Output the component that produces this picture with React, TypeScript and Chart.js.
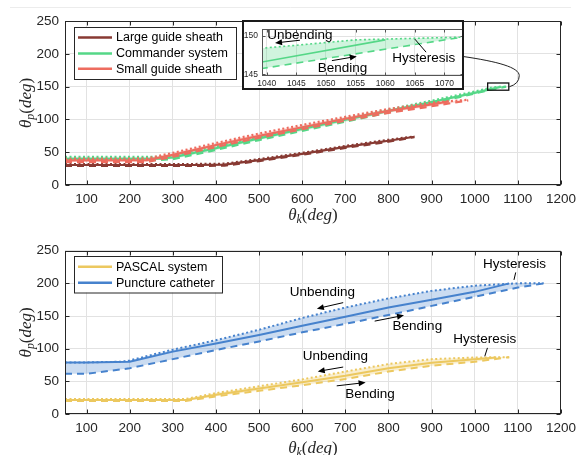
import React, { useEffect, useRef } from "react";
import { Chart, registerables } from "chart.js";

Chart.register(...registerables);

const INK = "#262626";
const GRID = "#e2e2e2";
const SANS = "'Liberation Sans', Arial, Helvetica, sans-serif";
const SERIF = "'Liberation Serif', 'DejaVu Serif', serif";

// ---------- axes / ticks ----------
const xTicks = [100, 200, 300, 400, 500, 600, 700, 800, 900, 1000, 1100, 1200];
const yTicks = [0, 50, 100, 150, 200, 250];
const insetXTicks = [1040, 1045, 1050, 1055, 1060, 1065, 1070];
const insetYTicks = [145, 150];

// ---------- top panel series ----------
const topLabels = ["Large guide sheath", "Commander system", "Small guide sheath"];

// Large guide sheath
const lgsUnbendX = [50, 150, 250, 350, 420, 500, 600, 700, 800, 860];
const lgsUnbendY = [32, 32, 32, 32, 32.5, 39.5, 49, 59.5, 69, 74];
const lgsMeanX = [50, 150, 250, 350, 420, 500, 600, 700, 800, 860];
const lgsMeanY = [30.5, 30.5, 30.5, 30.5, 31, 38, 47.5, 58, 67.5, 73.5];
const lgsBendX = [50, 150, 250, 350, 420, 500, 600, 700, 800, 860];
const lgsBendY = [29, 29, 29, 29, 29.5, 36.5, 46, 56.5, 66, 73];

// Commander system
const cmdUnbendX = [50, 270, 300, 400, 500, 600, 700, 800, 900, 1000, 1040, 1055, 1073];
const cmdUnbendY = [43, 43, 45, 59, 74, 87.5, 101.5, 115, 128.5, 142.5, 148.4, 149.5, 149.85];
const cmdMeanX = [50, 270, 300, 400, 500, 600, 700, 800, 900, 1000, 1060];
const cmdMeanY = [40, 40, 42, 56, 71, 85.5, 99.5, 113, 126.5, 140.5, 149.5];
const cmdBendX = [50, 270, 300, 400, 500, 600, 700, 800, 900, 1000, 1040, 1073];
const cmdBendY = [38, 38, 39.5, 53.5, 68.5, 82.5, 96.5, 110.5, 124, 139.5, 145.75, 149.85];

// Small guide sheath
const sgsUnbendX = [50, 240, 300, 400, 500, 600, 700, 800, 900, 985];
const sgsUnbendY = [40, 40.5, 49, 64, 78.5, 91.5, 104, 116, 125.5, 130];
const sgsMeanX = [50, 240, 300, 400, 500, 600, 700, 800, 900, 940];
const sgsMeanY = [37.5, 38, 46, 61, 75, 88, 101, 113, 123, 127.5];
const sgsBendX = [50, 240, 300, 400, 500, 600, 700, 800, 900, 985];
const sgsBendY = [35, 35, 43, 58, 72, 85, 98, 110, 120, 129];

// ---------- inset (Commander system, zoomed) ----------
const insetUnbendX = [1039, 1045, 1050, 1055, 1065, 1073];
const insetUnbendY = [148.4, 148.8, 149.15, 149.5, 149.7, 149.85];
const insetMeanX = [1039, 1060];
const insetMeanY = [146.6, 149.5];
const insetBendX = [1039, 1073];
const insetBendY = [145.75, 149.85];

const insetNoteText = ["Unbending", "Bending", "Hysteresis"];
const insetNoteX = [1045.6, 1052.8, 1066.5];
const insetNoteY = [150.1, 145.8, 147.1];
const insetArrowX0 = [1045.6, 1051.0, 1066.9];
const insetArrowY0 = [149.45, 146.8, 147.9];
const insetArrowX1 = [1041.4, 1055.2, 1065.0];
const insetArrowY1 = [149.1, 147.35, 149.6];
const insetArrowHead = [true, true, false];

// zoom box + connector in top panel (data coordinates)
const zoomBoxX = [1030, 1079];
const zoomBoxY = [144.5, 155.5];
const connectorX = [972, 1052.5, 1103.2, 1103.2, 1103.2, 1080.2];
const connectorY = [196, 188.3, 179.3, 166.7, 154.3, 149.7];

// ---------- bottom panel series ----------
const bottomLabels = ["PASCAL system", "Puncture catheter"];

// PASCAL system
const psUnbendX = [50, 200, 330, 400, 500, 600, 700, 800, 900, 1000, 1080];
const psUnbendY = [23, 23, 23, 32, 42.5, 53, 65, 76.5, 84, 86.5, 87];
const psMeanX = [50, 200, 330, 400, 500, 600, 700, 800, 900, 1000, 1050];
const psMeanY = [21.5, 21.5, 21.5, 29.5, 39, 48.5, 58.5, 70, 78.5, 84, 86.5];
const psBendX = [50, 200, 330, 400, 500, 600, 700, 800, 900, 1000, 1080];
const psBendY = [20, 20, 20, 27, 35.5, 44, 53.5, 65, 74, 80, 87];

// Puncture catheter
const pcUnbendX = [50, 100, 180, 200, 300, 400, 500, 600, 700, 800, 900, 1000, 1100, 1160];
const pcUnbendY = [79, 79, 80, 82, 98.5, 113, 129, 147, 163, 177, 188.5, 196.5, 200, 200];
const pcMeanX = [50, 100, 200, 300, 400, 500, 600, 700, 800, 900, 1000, 1080];
const pcMeanY = [79, 79, 80, 95.5, 108, 121, 135, 149, 163, 175, 187, 200];
const pcBendX = [50, 100, 200, 300, 400, 500, 600, 700, 800, 900, 1000, 1100, 1160];
const pcBendY = [61.5, 61.5, 70, 84, 98, 111, 125, 138, 151.5, 165.5, 179.5, 193.5, 200];

const bottomNoteText = ["Unbending", "Bending", "Hysteresis", "Unbending", "Bending", "Hysteresis"];
const bottomNoteX = [647, 867, 1092, 677, 757, 1023];
const bottomNoteY = [186.4, 133.6, 229.5, 88.3, 30.8, 114];
const bottomArrowX0 = [695, 768, 1095, 695, 680, 1029.5];
const bottomArrowY0 = [170.5, 142.2, 216.7, 71.9, 43.1, 101.2];
const bottomArrowX1 = [634, 836, 1091, 636, 747, 1023.3];
const bottomArrowY1 = [161.3, 151, 205.3, 65.2, 48.2, 88.3];
const bottomArrowHead = [true, true, false, true, true, false];

// ---------- colours ----------
const C_LGS = "#883a33";
const C_CMD = "#55d787";
const C_SGS = "#ee6c5f";
const C_PS = "#ecc85f";
const C_PC = "#4682cd";
const F_LGS = "rgba(136,58,51,0.22)";
const F_CMD = "rgba(85,215,135,0.28)";
const F_SGS = "rgba(238,108,95,0.22)";
const F_PS = "rgba(236,200,95,0.3)";
const F_PC = "rgba(70,130,205,0.28)";

const DOT = [2, 2.5];
const DASH = [7, 5];

// ---------- helpers ----------
const pts = (xs: number[], ys: number[]) => xs.map((x, i) => ({ x, y: ys[i] }));

function lineDs(xs: number[], ys: number[], color: string, width: number, dash: number[]) {
  return {
    data: pts(xs, ys),
    borderColor: color,
    backgroundColor: color,
    borderWidth: width,
    borderDash: dash,
    borderCapStyle: "butt",
    pointRadius: 0,
    fill: false,
    tension: 0,
    order: 0,
  };
}

function bandDs(bx: number[], by: number[], ux: number[], uy: number[], fillColor: string) {
  const data = pts(bx, by).concat(pts(ux, uy).reverse());
  return {
    data,
    borderColor: "rgba(0,0,0,0)",
    borderWidth: 0,
    backgroundColor: fillColor,
    pointRadius: 0,
    fill: "shape",
    tension: 0,
    order: 10,
  };
}

function series(
  ux: number[], uy: number[], mx: number[], my: number[], bx: number[], by: number[],
  color: string, width: number
) {
  return [lineDs(ux, uy, color, width, DOT), lineDs(mx, my, color, width, []), lineDs(bx, by, color, width, DASH)];
}

function drawArrow(ctx: CanvasRenderingContext2D, x0: number, y0: number, x1: number, y1: number, head: boolean) {
  ctx.save();
  ctx.strokeStyle = "#000";
  ctx.fillStyle = "#000";
  ctx.lineWidth = 1;
  const ang = Math.atan2(y1 - y0, x1 - x0);
  const hl = head ? 7 : 0;
  ctx.beginPath();
  ctx.moveTo(x0, y0);
  ctx.lineTo(x1 - Math.cos(ang) * hl * 0.8, y1 - Math.sin(ang) * hl * 0.8);
  ctx.stroke();
  if (head) {
    ctx.beginPath();
    ctx.moveTo(x1, y1);
    ctx.lineTo(x1 - hl * Math.cos(ang) + 3 * Math.sin(ang), y1 - hl * Math.sin(ang) - 3 * Math.cos(ang));
    ctx.lineTo(x1 - hl * Math.cos(ang) - 3 * Math.sin(ang), y1 - hl * Math.sin(ang) + 3 * Math.cos(ang));
    ctx.closePath();
    ctx.fill();
  }
  ctx.restore();
}

function drawNotes(chart: any, text: string[], nx: number[], ny: number[],
  ax0: number[], ay0: number[], ax1: number[], ay1: number[], heads: boolean[], size: number) {
  const { ctx, scales } = chart;
  const X = (v: number) => scales.x.getPixelForValue(v);
  const Y = (v: number) => scales.y.getPixelForValue(v);
  ctx.save();
  ctx.font = `${size}px ${SANS}`;
  ctx.fillStyle = "#000";
  ctx.textAlign = "center";
  ctx.textBaseline = "middle";
  text.forEach((t, i) => ctx.fillText(t, X(nx[i]), Y(ny[i])));
  ctx.restore();
  ax0.forEach((_, i) => drawArrow(ctx, X(ax0[i]), Y(ay0[i]), X(ax1[i]), Y(ay1[i]), heads[i]));
}

function drawFrame(chart: any, tickLen: number, boxColor: string) {
  const { ctx, chartArea: a, scales } = chart;
  const L = Math.round(a.left) + 0.5, R = Math.round(a.right) - 0.5;
  const T = Math.round(a.top) + 0.5, B = Math.round(a.bottom) - 0.5;
  ctx.save();
  ctx.strokeStyle = boxColor;
  ctx.lineWidth = 1;
  ctx.beginPath();
  for (const t of scales.x.ticks) {
    const px = Math.round(scales.x.getPixelForValue(t.value)) + 0.5;
    ctx.moveTo(px, B); ctx.lineTo(px, B - tickLen);
    ctx.moveTo(px, T); ctx.lineTo(px, T + tickLen);
  }
  for (const t of scales.y.ticks) {
    const py = Math.round(scales.y.getPixelForValue(t.value)) + 0.5;
    ctx.moveTo(L, py); ctx.lineTo(L + tickLen, py);
    ctx.moveTo(R, py); ctx.lineTo(R - tickLen, py);
  }
  ctx.stroke();
  ctx.strokeRect(L, T, R - L, B - T);
  ctx.restore();
}

function drawMath(ctx: CanvasRenderingContext2D, cx: number, cy: number, sub: string, rotate: boolean) {
  const size = 17;
  const parts = [
    { t: "θ", f: `italic ${size}px ${SERIF}`, dy: 0 },
    { t: sub, f: `italic ${size * 0.7}px ${SERIF}`, dy: size * 0.22 },
    { t: "(", f: `${size}px ${SERIF}`, dy: 0 },
    { t: "deg", f: `italic ${size}px ${SERIF}`, dy: 0 },
    { t: ")", f: `${size}px ${SERIF}`, dy: 0 },
  ];
  ctx.save();
  ctx.translate(cx, cy);
  if (rotate) ctx.rotate(-Math.PI / 2);
  let total = 0;
  const widths = parts.map((p) => { ctx.font = p.f; const w = ctx.measureText(p.t).width; total += w; return w; });
  let x = -total / 2;
  ctx.fillStyle = INK;
  ctx.textAlign = "left";
  ctx.textBaseline = "alphabetic";
  parts.forEach((p, i) => {
    ctx.font = p.f;
    ctx.fillText(p.t, x, size * 0.33 + p.dy);
    x += widths[i];
  });
  ctx.restore();
}

function drawLegend(ctx: CanvasRenderingContext2D, box: number[], labels: string[], colors: string[], rows: number[]) {
  const [bx, by, bw, bh] = box;
  ctx.save();
  ctx.fillStyle = "#fff";
  ctx.fillRect(bx, by, bw, bh);
  ctx.strokeStyle = INK;
  ctx.lineWidth = 1;
  ctx.strokeRect(bx + 0.5, by + 0.5, bw, bh);
  ctx.font = `12.5px ${SANS}`;
  ctx.textAlign = "left";
  ctx.textBaseline = "middle";
  labels.forEach((lab, i) => {
    ctx.strokeStyle = colors[i];
    ctx.lineWidth = 2.5;
    ctx.beginPath();
    ctx.moveTo(bx + 4, rows[i]);
    ctx.lineTo(bx + 38, rows[i]);
    ctx.stroke();
    ctx.fillStyle = "#000";
    ctx.fillText(lab, bx + 42, rows[i] + 0.5);
  });
  ctx.restore();
}

const plain = (v: any) => String(v);

function baseOptions(xMin: number, xMax: number, xT: number[], yMin: number, yMax: number, yT: number[],
  fontSize: number, padding: any, xH: number, yW: number, xPad: number, yPad: number, grid: boolean) {
  return {
    responsive: false,
    animation: false,
    devicePixelRatio: 1,
    events: [],
    layout: { padding },
    plugins: { legend: { display: false }, tooltip: { enabled: false } },
    scales: {
      x: {
        type: "linear",
        min: xMin,
        max: xMax,
        afterBuildTicks: (s: any) => { s.ticks = xT.map((v) => ({ value: v })); },
        afterFit: (s: any) => { s.height = xH; },
        grid: { display: grid, color: GRID, lineWidth: 1, drawTicks: false },
        border: { display: false },
        ticks: { color: INK, font: { family: SANS, size: fontSize }, padding: xPad, maxRotation: 0, autoSkip: false, callback: plain },
      },
      y: {
        type: "linear",
        min: yMin,
        max: yMax,
        afterBuildTicks: (s: any) => { s.ticks = yT.map((v) => ({ value: v })); },
        afterFit: (s: any) => { s.width = yW; },
        grid: { display: grid, color: GRID, lineWidth: 1, drawTicks: false },
        border: { display: false },
        ticks: { color: INK, font: { family: SANS, size: fontSize }, padding: yPad, autoSkip: false, callback: plain },
      },
    },
  };
}

const whiteBg = {
  id: "whiteBg",
  beforeDraw(chart: any) {
    const { ctx, width, height } = chart;
    ctx.save();
    ctx.fillStyle = "#fff";
    ctx.fillRect(0, 0, width, height);
    ctx.restore();
  },
};

function topConfig(): any {
  const datasets = [
    ...series(sgsUnbendX, sgsUnbendY, sgsMeanX, sgsMeanY, sgsBendX, sgsBendY, C_SGS, 2.2),
    ...series(cmdUnbendX, cmdUnbendY, cmdMeanX, cmdMeanY, cmdBendX, cmdBendY, C_CMD, 2.2),
    ...series(lgsUnbendX, lgsUnbendY, lgsMeanX, lgsMeanY, lgsBendX, lgsBendY, C_LGS, 2.2),
    bandDs(sgsBendX, sgsBendY, sgsUnbendX, sgsUnbendY, F_SGS),
    bandDs(cmdBendX, cmdBendY, cmdUnbendX, cmdUnbendY, F_CMD),
    bandDs(lgsBendX, lgsBendY, lgsUnbendX, lgsUnbendY, F_LGS),
  ];
  const decor = {
    id: "topDecor",
    afterDraw(chart: any) {
      const { ctx, chartArea: a, scales } = chart;
      const X = (v: number) => scales.x.getPixelForValue(v);
      const Y = (v: number) => scales.y.getPixelForValue(v);
      // faint figure edge line
      ctx.save();
      ctx.strokeStyle = "#ececec";
      ctx.lineWidth = 1;
      ctx.beginPath();
      ctx.moveTo(10, 7.5);
      ctx.lineTo(571, 7.5);
      ctx.stroke();
      ctx.restore();
      drawFrame(chart, 4, INK);
      drawMath(ctx, (a.left + a.right) / 2, 214, "k", false);
      drawMath(ctx, 25, (a.top + a.bottom) / 2, "p", true);
      drawLegend(ctx, [74, 27, 162, 52], topLabels, [C_LGS, C_CMD, C_SGS], [37.5, 53.5, 68.7]);
      // zoom box
      ctx.save();
      ctx.strokeStyle = "#111";
      ctx.lineWidth = 1.3;
      ctx.strokeRect(X(zoomBoxX[0]), Y(zoomBoxY[1]), X(zoomBoxX[1]) - X(zoomBoxX[0]), Y(zoomBoxY[0]) - Y(zoomBoxY[1]));
      // connector
      ctx.lineWidth = 1;
      ctx.strokeStyle = "#222";
      ctx.beginPath();
      ctx.moveTo(X(connectorX[0]), Y(connectorY[0]));
      ctx.bezierCurveTo(X(connectorX[1]), Y(connectorY[1]), X(connectorX[2]), Y(connectorY[2]), X(connectorX[3]), Y(connectorY[3]));
      ctx.quadraticCurveTo(X(connectorX[4]), Y(connectorY[4]), X(connectorX[5]), Y(connectorY[5]));
      ctx.stroke();
      ctx.restore();
    },
  };
  return {
    type: "line",
    data: { datasets },
    options: baseOptions(50, 1200, xTicks, 0, 250, yTicks, 13.5, { left: 0, right: 18, top: 21, bottom: 0 }, 43, 65, 6, 6, true),
    plugins: [whiteBg, decor],
  };
}

function bottomConfig(): any {
  const datasets = [
    ...series(pcUnbendX, pcUnbendY, pcMeanX, pcMeanY, pcBendX, pcBendY, C_PC, 2),
    ...series(psUnbendX, psUnbendY, psMeanX, psMeanY, psBendX, psBendY, C_PS, 2),
    bandDs(pcBendX, pcBendY, pcUnbendX, pcUnbendY, F_PC),
    bandDs(psBendX, psBendY, psUnbendX, psUnbendY, F_PS),
  ];
  const decor = {
    id: "bottomDecor",
    afterDraw(chart: any) {
      const { ctx, chartArea: a } = chart;
      drawFrame(chart, 4, INK);
      drawMath(ctx, (a.left + a.right) / 2, 219, "k", false);
      drawMath(ctx, 25, (a.top + a.bottom) / 2, "p", true);
      drawLegend(ctx, [74, 28, 148, 36.5], bottomLabels, [C_PS, C_PC], [38.7, 54.7]);
      drawNotes(chart, bottomNoteText, bottomNoteX, bottomNoteY, bottomArrowX0, bottomArrowY0,
        bottomArrowX1, bottomArrowY1, bottomArrowHead, 13.5);
    },
  };
  return {
    type: "line",
    data: { datasets },
    options: baseOptions(50, 1200, xTicks, 0, 250, yTicks, 13.5, { left: 0, right: 18, top: 22.7, bottom: 0 }, 41, 65, 6, 6, true),
    plugins: [whiteBg, decor],
  };
}

function insetConfig(): any {
  const datasets = [
    lineDs(insetUnbendX, insetUnbendY, C_CMD, 1.6, DOT),
    lineDs(insetMeanX, insetMeanY, C_CMD, 1.6, []),
    lineDs(insetBendX, insetBendY, C_CMD, 1.6, DASH),
    bandDs(insetBendX, insetBendY, insetUnbendX, insetUnbendY, F_CMD),
  ];
  const decor = {
    id: "insetDecor",
    afterDraw(chart: any) {
      const { ctx, width, height } = chart;
      drawFrame(chart, 3, "#555");
      drawNotes(chart, insetNoteText, insetNoteX, insetNoteY, insetArrowX0, insetArrowY0,
        insetArrowX1, insetArrowY1, insetArrowHead, 13.5);
      ctx.save();
      ctx.strokeStyle = "#1a1a1a";
      ctx.lineWidth = 2;
      ctx.strokeRect(1, 1, width - 2, height - 2);
      ctx.restore();
    },
  };
  return {
    type: "line",
    data: { datasets },
    options: baseOptions(1039.2, 1073.3, insetXTicks, 144.8, 150.9, insetYTicks, 8.5, { left: 0, right: 0, top: 2, bottom: 0 }, 14, 20, 3, 4, true),
    plugins: [whiteBg, decor],
  };
}

export default function App() {
  const topRef = useRef<HTMLCanvasElement>(null);
  const botRef = useRef<HTMLCanvasElement>(null);
  const insRef = useRef<HTMLCanvasElement>(null);

  useEffect(() => {
    const charts = [
      new Chart(topRef.current as HTMLCanvasElement, topConfig()),
      new Chart(botRef.current as HTMLCanvasElement, bottomConfig()),
      new Chart(insRef.current as HTMLCanvasElement, insetConfig()),
    ];
    return () => charts.forEach((c) => c.destroy());
  }, []);

  return (
    <div style={{ position: "fixed", left: 0, top: 0, width: 582, height: 455, background: "#fff", overflow: "hidden" }}>
      <canvas ref={topRef} width={582} height={228} style={{ position: "absolute", left: 0, top: 0 }} />
      <canvas ref={botRef} width={582} height={227} style={{ position: "absolute", left: 0, top: 228 }} />
      <canvas ref={insRef} width={222} height={70} style={{ position: "absolute", left: 242, top: 20 }} />
    </div>
  );
}
